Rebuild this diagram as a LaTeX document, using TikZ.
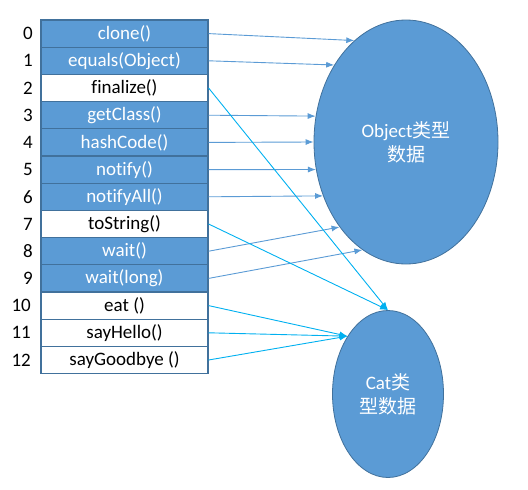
\documentclass[tikz,border=0pt]{standalone}
\usepackage{fontspec}
\setmainfont{Carlito}[Ligatures=NoCommon]
\newfontfamily\cjk{Noto Sans CJK SC}
\usetikzlibrary{shapes.geometric,arrows.meta}
\definecolor{boxblue}{HTML}{5B9BD5}
\definecolor{boxline}{HTML}{41719C}
\definecolor{catline}{HTML}{00B0F0}

\begin{document}
\begin{tikzpicture}[x=1pt, y=-1pt,
		every node/.style={font=\fontsize{19}{24}\selectfont},
		method/.style={draw=boxline, line width=1.2pt, minimum width=167pt, minimum height=27.2pt, inner sep=0pt},
		objmethod/.style={method, fill=boxblue, text=white},
		catmethod/.style={method, fill=white, text=black},
		index/.style={anchor=east, inner sep=0pt},
		data/.style={ellipse, draw=boxline, line width=0.8pt, fill=boxblue, text=white, align=center, inner sep=0pt},
		objarrow/.style={-{Latex[length=8pt,width=6pt]}, draw=boxblue, line width=0.9pt},
		catarrow/.style={-{Latex[length=8pt,width=6pt]}, draw=catline, line width=0.9pt}
	]
	\useasboundingbox (0,0) rectangle (528,490);

	% method table
	\node[objmethod] (m0) at (124.5,33.6) {clone()};
	\node[objmethod] (m1) at (124.5,60.8) {equals(Object)};
	\node[catmethod] (m2) at (124.5,88.0) {finalize()};
	\node[objmethod] (m3) at (124.5,115.2) {getClass()};
	\node[objmethod] (m4) at (124.5,142.4) {hashCode()};
	\node[objmethod] (m5) at (124.5,169.6) {notify()};
	\node[objmethod] (m6) at (124.5,196.8) {notifyAll()};
	\node[catmethod] (m7) at (124.5,224.0) {toString()};
	\node[objmethod] (m8) at (124.5,251.2) {wait()};
	\node[objmethod] (m9) at (124.5,278.4) {wait(long)};
	\node[catmethod] (m10) at (124.5,305.6) {eat ()};
	\node[catmethod] (m11) at (124.5,332.8) {sayHello()};
	\node[catmethod] (m12) at (124.5,360.0) {sayGoodbye ()};

	% indices
	\node[index] (n0) at (33,33.6) {0};
	\node[index] (n1) at (33,60.8) {1};
	\node[index] (n2) at (33,88.0) {2};
	\node[index] (n3) at (33,115.2) {3};
	\node[index] (n4) at (33,142.4) {4};
	\node[index] (n5) at (33,169.6) {5};
	\node[index] (n6) at (33,196.8) {6};
	\node[index] (n7) at (33,224.0) {7};
	\node[index] (n8) at (33,251.2) {8};
	\node[index] (n9) at (33,278.4) {9};
	\node[index] (n10) at (31,305.6) {10};
	\node[index] (n11) at (31,332.8) {11};
	\node[index] (n12) at (31,360.0) {12};

	% data
	\node[data, minimum width=184pt, minimum height=244pt] (obj) at (406,142) {Object{\cjk 类型}\\{\cjk 数据}};
	\node[data, minimum width=111pt, minimum height=167pt] (cat) at (388,394) {Cat{\cjk 类}\\{\cjk 型数据}};

	\draw[objarrow] (m0.east) -- (obj.117);
	\draw[objarrow] (m1.east) -- (obj.133);
	\draw[objarrow] (m3.east) -- (obj.164);
	\draw[objarrow] (m4.east) -- (obj.180);
	\draw[objarrow] (m5.east) -- (obj.197);
	\draw[objarrow] (m6.east) -- (obj.213);
	\draw[objarrow] (m8.east) -- (obj.232);
	\draw[objarrow] (m9.east) -- (obj.248);

	\draw[catarrow] (m2.east) -- (cat.north);
	\draw[catarrow] (m7.east) -- (cat.north);
	\draw[catarrow] (m10.east) -- (cat.125);
	\draw[catarrow] (m11.east) -- (cat.125);
	\draw[catarrow] (m12.east) -- (cat.125);
\end{tikzpicture}
\end{document}
